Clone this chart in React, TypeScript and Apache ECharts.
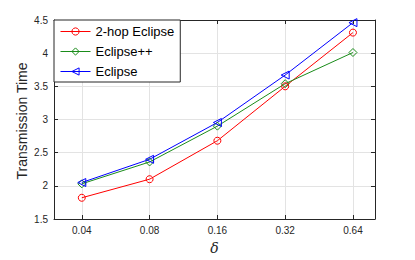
import React, { useEffect, useRef } from "react";
import * as echarts from "echarts";

const categories = ["0.04", "0.08", "0.16", "0.32", "0.64"];
const twoHopEclipse = [1.82, 2.1, 2.68, 3.5, 4.31];
const eclipsePlusPlus = [2.03, 2.36, 2.9, 3.54, 4.01];
const eclipse = [2.05, 2.4, 2.955, 3.67, 4.46];
const yTicks = [1.5, 2, 2.5, 3, 3.5, 4, 4.5];

const AX = "#262626";
const FONT = "'Liberation Sans', Arial, Helvetica, sans-serif";

export default function App() {
  const ref = useRef<HTMLDivElement>(null);
  useEffect(() => {
    document.body.style.margin = "0";
    if (!ref.current) return;
    const chart = echarts.init(ref.current, undefined, { renderer: "svg" });
    const xs = categories.map((_, i) => i + 1);
    const mk = (name: string, vals: number[], color: string, symbol: string, size: number, rotate = 0) => ({
      name,
      type: "line",
      data: vals.map((v, i) => [xs[i], v]),
      symbol,
      symbolSize: size,
      symbolRotate: rotate,
      showAllSymbol: true,
      lineStyle: { color, width: 1 },
      itemStyle: { color: "none", borderColor: color, borderWidth: 1 },
      emphasis: { disabled: true },
    });
    const xCommon = {
      type: "value",
      min: 0.59,
      max: 5.325,
      axisLine: { show: true, onZero: false, lineStyle: { color: AX, width: 1 } },
      axisTick: { show: true, inside: true, length: 4, customValues: xs, lineStyle: { color: AX } },
    };
    chart.setOption({
      animation: false,
      backgroundColor: "#ffffff",
      grid: { left: 54, right: 40, top: 20, bottom: 38, containLabel: false },
      xAxis: [
        {
          ...xCommon,
          position: "bottom",
          name: "δ",
          nameLocation: "middle",
          nameGap: 22,
          nameTextStyle: { fontFamily: "'DejaVu Serif', 'Liberation Serif', serif", fontStyle: "italic", fontSize: 14, color: AX },
          axisLabel: {
            show: true,
            customValues: xs,
            margin: 6,
            fontSize: 10,
            fontFamily: FONT,
            color: AX,
            formatter: (v: number) => categories[Math.round(v) - 1] ?? "",
          },
          splitLine: { show: true, lineStyle: { color: "#e3e3e3", width: 1 } },
        },
        {
          ...xCommon,
          position: "top",
          axisLabel: { show: false },
          splitLine: { show: false },
        },
      ],
      yAxis: [
        {
          type: "value",
          min: yTicks[0],
          max: yTicks[yTicks.length - 1],
          interval: 0.5,
          position: "left",
          axisLine: { show: true, lineStyle: { color: AX, width: 1 } },
          axisTick: { show: true, inside: true, length: 4, lineStyle: { color: AX } },
          axisLabel: { margin: 6, fontSize: 10, fontFamily: FONT, color: AX },
          splitLine: { show: true, lineStyle: { color: "#e3e3e3", width: 1 } },
        },
        {
          type: "value",
          min: yTicks[0],
          max: yTicks[yTicks.length - 1],
          interval: 0.5,
          position: "right",
          axisLine: { show: true, lineStyle: { color: AX, width: 1 } },
          axisTick: { show: true, inside: true, length: 4, lineStyle: { color: AX } },
          axisLabel: { show: false },
          splitLine: { show: false },
        },
      ],
      legend: {
        orient: "vertical",
        left: 54,
        top: 20,
        width: 120,
        padding: [5, 6, 4, 6],
        itemWidth: 30,
        itemHeight: 9,
        itemGap: 7,
        backgroundColor: "#ffffff",
        borderColor: AX,
        borderWidth: 1,
        borderRadius: 0,
        itemStyle: { borderWidth: 1 },
        lineStyle: { width: 1 },
        textStyle: { fontSize: 13, fontFamily: FONT, color: "#000" },
        data: ["2-hop Eclipse", "Eclipse++", "Eclipse"],
      },
      graphic: [
        {
          type: "text",
          x: 22,
          y: 121,
          rotation: Math.PI / 2,
          style: {
            text: "Transmission Time",
            fontSize: 14,
            fontFamily: FONT,
            fill: AX,
            textAlign: "center",
            textVerticalAlign: "middle",
          },
        },
      ],
      series: [
        mk("2-hop Eclipse", twoHopEclipse, "#ff0000", "circle", 7),
        mk("Eclipse++", eclipsePlusPlus, "#1a8c1a", "diamond", 8),
        mk("Eclipse", eclipse, "#0000ff", "triangle", 8, 90),
      ],
    });
    return () => chart.dispose();
  }, []);
  return <div ref={ref} style={{ width: 415, height: 260 }} />;
}
